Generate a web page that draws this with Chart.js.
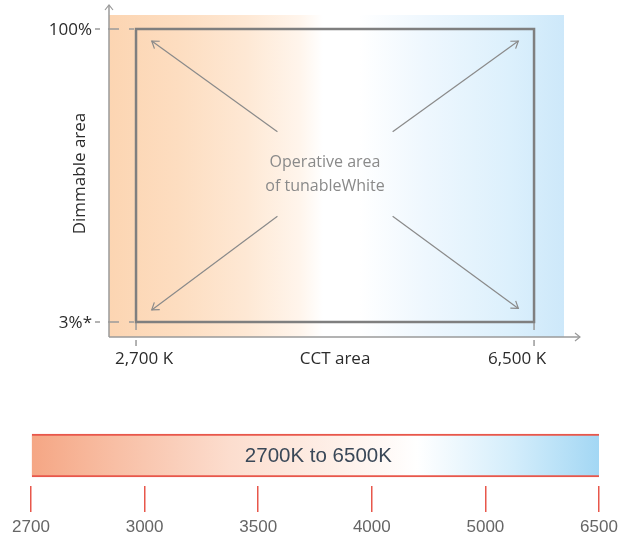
<!DOCTYPE html>
<html><head><meta charset="utf-8">
<script src="https://cdn.jsdelivr.net/npm/chart.js@4.4.1/dist/chart.umd.min.js"></script>
<style>
html,body{margin:0;padding:0;background:#fff;overflow:hidden;width:630px;height:542px;}
#top{position:absolute;left:0;top:0;width:630px;height:390px;}
#bot{position:absolute;left:0;top:380px;width:630px;height:170px;}
</style></head><body>
<div id="top"><canvas id="c1"></canvas></div>
<div id="bot"><canvas id="c2"></canvas></div>
<script>
// ---------------- data ----------------
const cctRange = [2700, 6500];            // K
const dimRange = [3, 100];                // %
const cctLabels = ['2,700 K', '6,500 K'];
const dimLabels = ['3%*', '100%'];
const xAxisTitle = 'CCT area';
const yAxisTitle = 'Dimmable area';
const areaText = ['Operative area', 'of tunableWhite'];
const arrowFrom = [[4050, 66], [5150, 66], [4050, 38], [5150, 38]];
const arrowTo   = [[2850, 96], [6350, 96], [2850, 7], [6350, 7.5]];

const scaleTicks = ['2700', '3000', '3500', '4000', '5000', '6500'];
const bandLabel = ['2700K to 6500K'];
const bandSpan = [0, 5];                  // first..last tick index

// ---------------- top chart ----------------
const frame = [
  {x: cctRange[0], y: dimRange[0]}, {x: cctRange[0], y: dimRange[1]},
  {x: cctRange[1], y: dimRange[1]}, {x: cctRange[1], y: dimRange[0]},
  {x: cctRange[0], y: dimRange[0]}
];
const topDatasets = [{
  data: frame, borderColor: '#7f7f7f', borderWidth: 2.5, pointRadius: 0,
  showLine: true, tension: 0, borderCapStyle: 'square', borderJoinStyle: 'miter'
}];
arrowFrom.forEach((f, i) => {
  topDatasets.push({
    data: [{x: f[0], y: f[1]}, {x: arrowTo[i][0], y: arrowTo[i][1]}],
    borderColor: '#8a8a8a', borderWidth: 1.2, pointRadius: 0, showLine: true, tension: 0
  });
});

const topPlugin = {
  id: 'topDeco',
  beforeDraw(chart) {
    const {ctx, chartArea: ca} = chart;
    const g = ctx.createLinearGradient(ca.left, 0, ca.right, 0);
    g.addColorStop(0, '#fcd5b2');
    g.addColorStop(0.15, '#fdddc0');
    g.addColorStop(0.3, '#fee8d4');
    g.addColorStop(0.42, '#fff5ec');
    g.addColorStop(0.47, '#ffffff');
    g.addColorStop(0.55, '#ffffff');
    g.addColorStop(0.7, '#eef7fe');
    g.addColorStop(0.88, '#dcf0fc');
    g.addColorStop(1, '#cde8fa');
    ctx.save();
    ctx.fillStyle = g;
    ctx.fillRect(ca.left, ca.top, ca.right - ca.left, ca.bottom - ca.top);
    ctx.restore();
  },
  beforeDatasetsDraw(chart) {
    const {ctx, chartArea: ca} = chart;
    const xs = chart.scales.x, ys = chart.scales.y;
    const L = ca.left, B = ca.bottom;
    ctx.save();
    ctx.strokeStyle = '#9a9a9a';
    ctx.lineWidth = 1.5;
    // axes
    ctx.beginPath();
    ctx.moveTo(L, B); ctx.lineTo(L, 5);
    ctx.moveTo(L, B); ctx.lineTo(580, B);
    ctx.stroke();
    ctx.lineWidth = 1.2;
    ctx.beginPath();
    ctx.moveTo(L - 4, 10); ctx.lineTo(L, 5); ctx.lineTo(L + 4, 10);
    ctx.moveTo(575, B - 4); ctx.lineTo(580, B); ctx.lineTo(575, B + 4);
    ctx.stroke();
    // dashed guides
    ctx.lineWidth = 1.5;
    ctx.setLineDash([5, 8, 11, 10]);
    const xr0 = xs.getPixelForValue(cctRange[0]);
    dimRange.forEach(v => {
      const y = ys.getPixelForValue(v);
      ctx.beginPath(); ctx.moveTo(L - 14, y); ctx.lineTo(xr0, y); ctx.stroke();
    });
    ctx.setLineDash([8, 10]);
    const yr0 = ys.getPixelForValue(dimRange[0]);
    cctRange.forEach(v => {
      const x = xs.getPixelForValue(v);
      ctx.beginPath(); ctx.moveTo(x, yr0); ctx.lineTo(x, B + 9); ctx.stroke();
    });
    ctx.restore();
  },
  afterDatasetsDraw(chart) {
    const {ctx, chartArea: ca} = chart;
    const xs = chart.scales.x, ys = chart.scales.y;
    ctx.save();
    // arrowheads
    ctx.strokeStyle = '#8a8a8a';
    ctx.lineWidth = 1.2;
    arrowTo.forEach((t, i) => {
      const x2 = xs.getPixelForValue(t[0]), y2 = ys.getPixelForValue(t[1]);
      const x1 = xs.getPixelForValue(arrowFrom[i][0]), y1 = ys.getPixelForValue(arrowFrom[i][1]);
      const a = Math.atan2(y2 - y1, x2 - x1);
      const len = 8, sp = 0.6;
      ctx.beginPath();
      ctx.moveTo(x2 - len * Math.cos(a - sp), y2 - len * Math.sin(a - sp));
      ctx.lineTo(x2, y2);
      ctx.lineTo(x2 - len * Math.cos(a + sp), y2 - len * Math.sin(a + sp));
      ctx.stroke();
    });
    // texts
    ctx.fillStyle = '#2b2b2b';
    ctx.font = '17px "Open Sans", sans-serif';
    ctx.textBaseline = 'middle';
    ctx.textAlign = 'right';
    dimRange.forEach((v, i) => {
      ctx.fillText(dimLabels[i], ca.left - 17, ys.getPixelForValue(v) + 1);
    });
    ctx.textAlign = 'center';
    const xl = xs.getPixelForValue(cctRange[0]), xr = xs.getPixelForValue(cctRange[1]);
    const ty = ca.bottom + 22;
    ctx.fillText(cctLabels[0], xl + 8, ty);
    ctx.fillText(cctLabels[1], xr - 17, ty);
    ctx.fillText(xAxisTitle, (xl + xr) / 2, ty);
    const yt = ys.getPixelForValue(dimRange[1]), yb = ys.getPixelForValue(dimRange[0]);
    ctx.save();
    ctx.translate(80, (yt + yb) / 2 - 2);
    ctx.rotate(-Math.PI / 2);
    ctx.fillText(yAxisTitle, 0, 0);
    ctx.restore();
    ctx.fillStyle = '#8a8a8a';
    ctx.font = '16px "Open Sans", sans-serif';
    const cy = (yt + yb) / 2;
    ctx.fillText(areaText[0], (xl + xr) / 2 - 10, cy - 13);
    ctx.fillText(areaText[1], (xl + xr) / 2 - 10, cy + 11);
    ctx.restore();
  }
};

new Chart(document.getElementById('c1'), {
  type: 'scatter',
  data: {datasets: topDatasets},
  options: {
    responsive: true, maintainAspectRatio: false, animation: false, events: [],
    layout: {padding: {left: 109, right: 66, top: 15, bottom: 53}},
    plugins: {legend: {display: false}, tooltip: {enabled: false}},
    scales: {
      x: {type: 'linear', display: false, min: 2442, max: 6786},
      y: {type: 'linear', display: false, min: -1.97, max: 104.63}
    }
  },
  plugins: [topPlugin]
});

// ---------------- bottom chart ----------------
const bandPlugin = {
  id: 'bandText',
  afterDatasetsDraw(chart) {
    const el = chart.getDatasetMeta(0).data[0];
    const {ctx} = chart;
    ctx.save();
    ctx.fillStyle = '#3a4858';
    ctx.font = '20.5px "Liberation Sans", Arial, sans-serif';
    ctx.textAlign = 'center';
    ctx.textBaseline = 'middle';
    ctx.fillText(chart.data.labels[0], (el.x + el.base) / 2 + 3, el.y + 1);
    ctx.restore();
  }
};

new Chart(document.getElementById('c2'), {
  type: 'bar',
  data: {
    labels: bandLabel,
    datasets: [{
      data: [bandSpan],
      backgroundColor: (c) => {
        const ca = c.chart.chartArea;
        if (!ca) return '#fff';
        const g = c.chart.ctx.createLinearGradient(ca.left, 0, ca.right, 0);
        g.addColorStop(0, '#f5a684');
        g.addColorStop(0.15, '#f8bfa5');
        g.addColorStop(0.35, '#fcddce');
        g.addColorStop(0.55, '#fef1ea');
        g.addColorStop(0.68, '#ffffff');
        g.addColorStop(0.85, '#d3edfb');
        g.addColorStop(1, '#a3d7f4');
        return g;
      },
      borderColor: '#e8574b',
      borderWidth: {top: 2, bottom: 2, left: 0, right: 0},
      borderSkipped: false,
      barThickness: 43
    }]
  },
  options: {
    indexAxis: 'y',
    responsive: true, maintainAspectRatio: false, animation: false, events: [],
    layout: {padding: {left: 31, right: 31, top: 45, bottom: 7.6}},
    plugins: {legend: {display: false}, tooltip: {enabled: false}},
    scales: {
      y: {display: false},
      x: {
        type: 'linear', min: bandSpan[0], max: bandSpan[1],
        grid: {display: true, drawOnChartArea: false, drawTicks: true, tickLength: 26, color: '#e8574b', lineWidth: 1.5},
        border: {display: false},
        ticks: {
          stepSize: 1, autoSkip: false, maxRotation: 0, padding: 5,
          color: '#666666', font: {family: '"Liberation Sans", Arial, sans-serif', size: 17},
          callback: (v) => scaleTicks[v]
        }
      }
    }
  },
  plugins: [bandPlugin]
});
</script>
</body></html>
